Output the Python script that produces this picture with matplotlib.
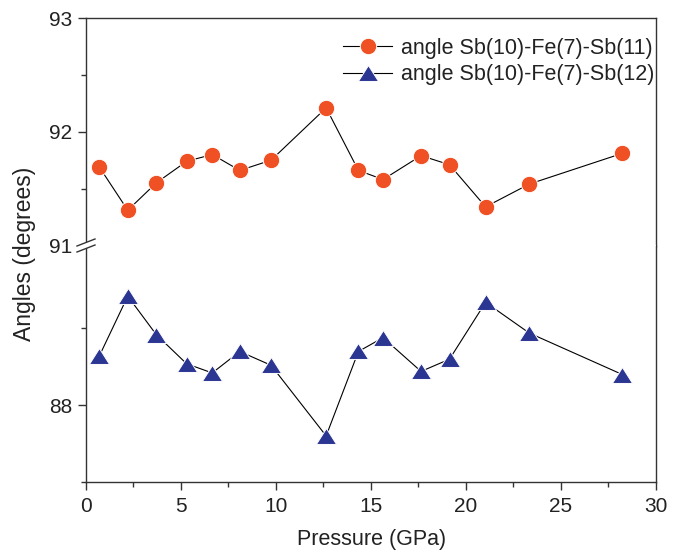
import matplotlib
matplotlib.use("Agg")
import matplotlib.pyplot as plt
from matplotlib.lines import Line2D
from matplotlib.patches import Polygon
from matplotlib.path import Path

plt.rcParams['font.family'] = ['Liberation Sans', 'DejaVu Sans']

pressure = [0.7, 2.2, 3.7, 5.3, 6.65, 8.1, 9.75, 12.65, 14.35, 15.65, 17.65, 19.15, 21.05, 23.35, 28.25]
angle_11 = [91.69, 91.31, 91.55, 91.74, 91.80, 91.66, 91.75, 92.21, 91.66, 91.58, 91.79, 91.71, 91.34, 91.54, 91.81]
angle_12 = [88.32, 88.71, 88.46, 88.27, 88.21, 88.35, 88.26, 87.80, 88.35, 88.44, 88.22, 88.30, 88.67, 88.47, 88.20]
label_11 = "angle Sb(10)-Fe(7)-Sb(11)"
label_12 = "angle Sb(10)-Fe(7)-Sb(12)"

W, H = 681, 551
fig = plt.figure(figsize=(W / 100, H / 100), dpi=100)

left, right = 86 / W, 655.5 / W
ytop, ybreak, ybot = 18, 245.5, 482
ax_t = fig.add_axes([left, 1 - ybreak / H, right - left, (ybreak - ytop) / H])
ax_b = fig.add_axes([left, 1 - ybot / H, right - left, (ybot - ybreak) / H], sharex=ax_t)

c_red = '#EF5024'
c_blue = '#2B3592'
spc = '#333333'
txtc = '#222222'
fs_tick = 15
fs_lab = 15.5
fs_ylab = 16.5
fs_leg = 15.5

tri = Path([(-1, -0.79), (1, -0.79), (0, 0.79), (-1, -0.79)],
           [Path.MOVETO, Path.LINETO, Path.LINETO, Path.CLOSEPOLY])

l1, = ax_t.plot(pressure, angle_11, color='black', lw=0.8, marker='o', ms=11.8,
                mfc=c_red, mec='white', mew=0.7, label=label_11)
l2, = ax_b.plot(pressure, angle_12, color='black', lw=0.8, marker=tri, ms=14.5,
                mfc=c_blue, mec='white', mew=0.7, label=label_12)

ax_t.set_xlim(0, 30)
ax_t.set_ylim(91, 93)
ax_b.set_ylim(87.5, 89.04)

for ax in (ax_t, ax_b):
    for s in ax.spines.values():
        s.set_color(spc)
        s.set_linewidth(1.0)
    ax.tick_params(axis='both', which='major', direction='out', length=6, width=1,
                   color=spc, labelsize=fs_tick, labelcolor=txtc, pad=4)
    ax.tick_params(axis='both', which='minor', direction='out', length=3.5, width=1,
                   color=spc)

ax_t.spines['bottom'].set_visible(False)
ax_b.spines['top'].set_visible(False)
ax_t.tick_params(axis='x', which='both', bottom=False, labelbottom=False)

ax_t.set_yticks([91, 92, 93])
ax_t.set_yticks([91.5, 92.5], minor=True)
ax_b.set_yticks([88])
ax_b.set_yticks([87.5, 88.5], minor=True)
ax_b.set_xticks([0, 5, 10, 15, 20, 25, 30])
ax_b.set_xticks([2.5, 7.5, 12.5, 17.5, 22.5, 27.5], minor=True)
ax_b.tick_params(axis='x', which='major', pad=5)

fig.text(372 / W, 1 - 540 / H, "Pressure (GPa)", fontsize=fs_lab, color=txtc,
         ha='center', va='center')
fig.text(25 / W, 1 - 254 / H, "Angles (degrees)", rotation=90, fontsize=fs_ylab,
         color=txtc, ha='center', va='center')

# break marks on left spine (pixel coords measured from top)
xb = left * W
def P(x, y):
    return (x, H - y)
poly = Polygon([P(xb - 9, ybreak + 3.5 + 3), P(xb + 9, ybreak - 3.5 + 3),
                P(xb + 9, ybreak - 3.5 - 3), P(xb - 9, ybreak + 3.5 - 3)],
               closed=True, transform=None, facecolor='white', edgecolor='none', zorder=10)
fig.add_artist(poly)
for dy in (-3, 3):
    (x0, y0), (x1, y1) = P(xb - 9, ybreak + 3.5 + dy), P(xb + 9, ybreak - 3.5 + dy)
    fig.add_artist(Line2D([x0, x1], [y0, y1], transform=None, color=spc, lw=1.0, zorder=11))

leg = fig.legend(handles=[l1, l2], loc='upper left',
                 bbox_to_anchor=(343 / W, 1 - 38 / H),
                 frameon=False, fontsize=fs_leg, handlelength=2.28, handletextpad=0.42,
                 labelspacing=0.25, borderaxespad=0, borderpad=0)
for t in leg.get_texts():
    t.set_color(txtc)

fig.savefig("out.png", dpi=100)
